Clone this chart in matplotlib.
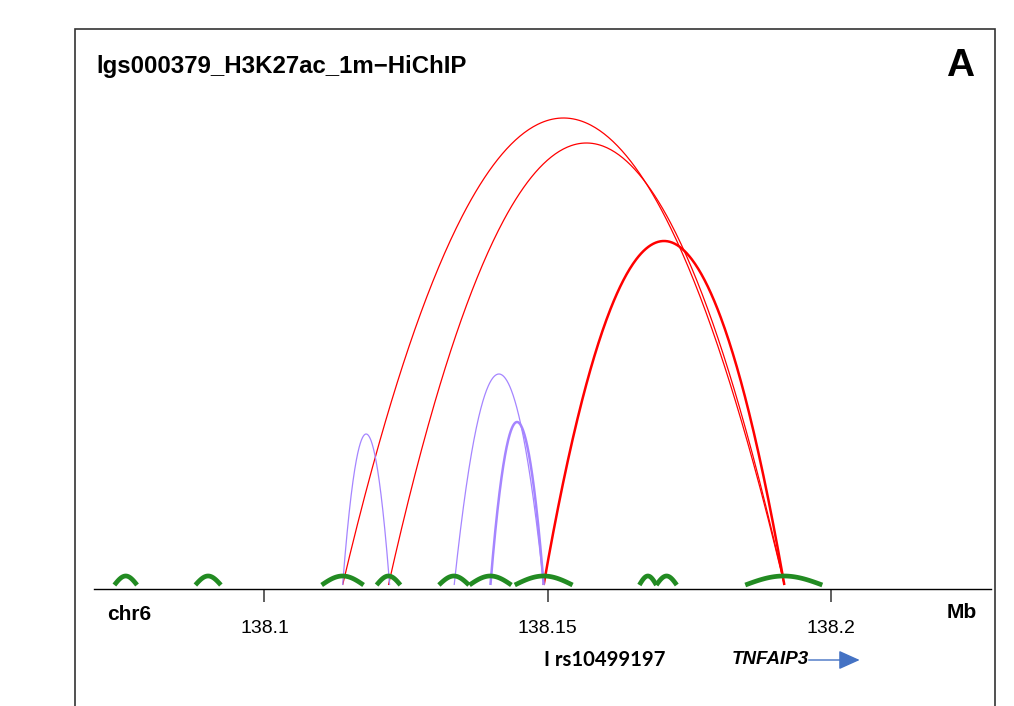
import numpy as np
import matplotlib.pyplot as plt
from matplotlib.patches import Rectangle

plt.rcParams['font.family'] = ['Liberation Sans', 'DejaVu Sans']

title = 'lgs000379_H3K27ac_1m\u2212HiChIP'
chrom = 'chr6'

# anchors (Mb): green feet on the baseline
anchor_start = [138.0735, 138.0878, 138.1101, 138.1198, 138.1308,
                138.1362, 138.1442, 138.1662, 138.1692, 138.1849]
anchor_end = [138.0775, 138.0923, 138.1175, 138.1240, 138.1361,
              138.1436, 138.1544, 138.1692, 138.1728, 138.1985]
anchor_height = 9

# loops between anchor centres
loop_left = [138.1138, 138.1219, 138.1493, 138.1138, 138.1335, 138.1399]
loop_right = [138.1918, 138.1918, 138.1918, 138.1221, 138.1493, 138.1493]
loop_height = [467, 442, 344, 151, 211, 163]
loop_group = ['red', 'red', 'red', 'purple', 'purple', 'purple']
loop_weight = [1, 1, 2, 1, 1, 2]

tick_pos = [138.1, 138.15, 138.2]
tick_lab = ['138.1', '138.15', '138.2']

snp_pos = 138.1493
snp_name = 'rs10499197'
gene_name = 'TNFAIP3'
gene_start = 138.1961
gene_tip = 138.2051

colors = {'red': '#ff0000', 'purple': '#a585ff'}

fig = plt.figure(figsize=(10.14, 7.06), dpi=100)
fig.add_artist(Rectangle((74.5 / 1014, -0.1), (995 - 74.5) / 1014, 1.1 - 29 / 706,
                         transform=fig.transFigure, fill=False, lw=1.2, ec='#333333'))

ax = fig.add_axes([94 / 1014, 1 - 589 / 706, (990.5 - 94) / 1014, 504 / 706])
ax.set_xlim(138.0699, 138.2282)
ax.set_ylim(-4, 500)

for l, r, h, g, w in zip(loop_left, loop_right, loop_height, loop_group, loop_weight):
    x = np.linspace(l, r, 300)
    t = (x - l) / (r - l)
    ax.plot(x, 4 * h * t * (1 - t), color=colors[g], lw=0.9 * w, solid_capstyle='butt')

for s, e in zip(anchor_start, anchor_end):
    x = np.linspace(s, e, 100)
    t = (x - s) / (e - s)
    ax.plot(x, anchor_height * np.sin(np.pi * t), color='#228b22', lw=3.4,
            solid_capstyle='butt')

for side in ['top', 'left', 'right']:
    ax.spines[side].set_visible(False)
ax.spines['bottom'].set_linewidth(1.0)
ax.set_yticks([])
ax.set_xticks(tick_pos)
ax.set_xticklabels(tick_lab, fontsize=14)
ax.tick_params(axis='x', length=9, width=1.2, color='#444444', pad=13.5)

fig.text(96 / 1014, 1 - 66 / 706, title, ha='left', va='center',
         fontsize=17.3, fontweight='bold')
fig.text(960 / 1014, 1 - 66 / 706, 'A', ha='center', va='center',
         fontsize=28, fontweight='bold')
fig.text(107 / 1014, 1 - 614 / 706, chrom, ha='left', va='center',
         fontsize=15, fontweight='bold')
fig.text(962 / 1014, 1 - 613 / 706, 'Mb', ha='center', va='center',
         fontsize=15, fontweight='bold')

tr = ax.get_xaxis_transform()
ylab = -71 / 504
ax.text(snp_pos, ylab, 'I ' + snp_name, transform=tr, ha='left', va='center',
        fontsize=14.6, fontweight='bold', family=['Lato', 'DejaVu Sans'])
ax.text(gene_start, ylab, gene_name, transform=tr, ha='right', va='center',
        fontsize=13.5, fontweight='bold', style='italic')
ax.annotate('', xy=(gene_tip, ylab), xytext=(gene_start, ylab), xycoords=tr,
            textcoords=tr, annotation_clip=False,
            arrowprops=dict(arrowstyle='-|>,head_length=1.0,head_width=0.45',
                            color='#4472c4', lw=1.0, mutation_scale=13,
                            shrinkA=0, shrinkB=0))

fig.savefig('out.png', dpi=100)
